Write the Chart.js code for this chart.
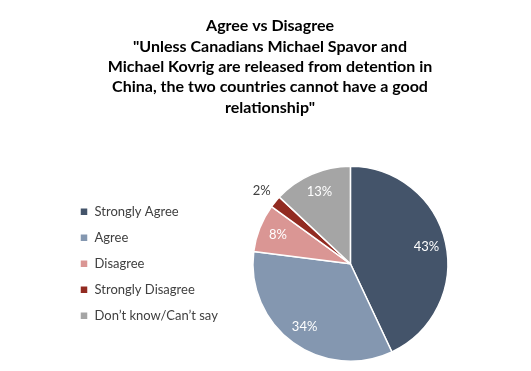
<!DOCTYPE html>
<html>
<head>
<meta charset="utf-8">
<script src="https://cdn.jsdelivr.net/npm/chart.js@4"></script>
<style>
  html, body { margin: 0; padding: 0; background: #fff; }
  #wrap { width: 531px; height: 371px; }
</style>
</head>
<body>
<div id="wrap"><canvas id="pie-chart"></canvas></div>
<script>
// --- Data ---
const titleLines = [
    'Agree vs Disagree',
    '"Unless Canadians Michael Spavor and',
    'Michael Kovrig are released from detention in',
    'China, the two countries cannot have a good',
    'relationship"'
];
const categories = ['Strongly Agree', 'Agree', 'Disagree', 'Strongly Disagree', 'Don\u2019t know/Can\u2019t say'];
const shares = [43, 34, 8, 2, 13];
const sliceColors = ['#44546A', '#8497B0', '#DA9694', '#922B21', '#A5A5A5'];

// draws "43%" etc on each slice, small slices get the label outside
const sliceLabels = {
    id: 'sliceLabels',
    afterDatasetsDraw(chart) {
        const ctx = chart.ctx;
        const meta = chart.getDatasetMeta(0);
        ctx.save();
        ctx.font = '13px Lato';
        ctx.textAlign = 'center';
        ctx.textBaseline = 'middle';
        meta.data.forEach((arc, i) => {
            const mid = (arc.startAngle + arc.endAngle) / 2;
            const small = shares[i] < 5;
            const r = arc.outerRadius * (small ? 1.18 : 0.8);
            ctx.fillStyle = small ? '#404040' : '#ffffff';
            ctx.fillText(shares[i] + '%', arc.x + Math.cos(mid) * r, arc.y + Math.sin(mid) * r);
        });
        ctx.restore();
    }
};

const ctx = document.getElementById('pie-chart').getContext('2d');
const pieChart = new Chart(ctx, {
    type: 'pie',
    data: {
        labels: categories,
        datasets: [{
            data: shares,
            backgroundColor: sliceColors,
            borderColor: '#ffffff',
            borderWidth: 1.5
        }]
    },
    options: {
        responsive: true,
        maintainAspectRatio: false,
        animation: false,
        layout: {
            padding: { left: 67, right: 58, top: 0, bottom: 9 }
        },
        plugins: {
            title: {
                display: true,
                text: titleLines,
                color: '#000000',
                font: { family: 'Lato', size: 16, weight: 'bold', lineHeight: 1.27 },
                padding: { top: 16, bottom: 48 }
            },
            legend: {
                position: 'left',
                align: 'center',
                fullSize: false,
                labels: {
                    boxWidth: 8,
                    boxHeight: 8,
                    padding: 13,
                    color: '#404040',
                    font: { family: 'Lato', size: 13 }
                }
            },
            tooltip: { enabled: false }
        }
    },
    plugins: [sliceLabels]
});
</script>
</body>
</html>
